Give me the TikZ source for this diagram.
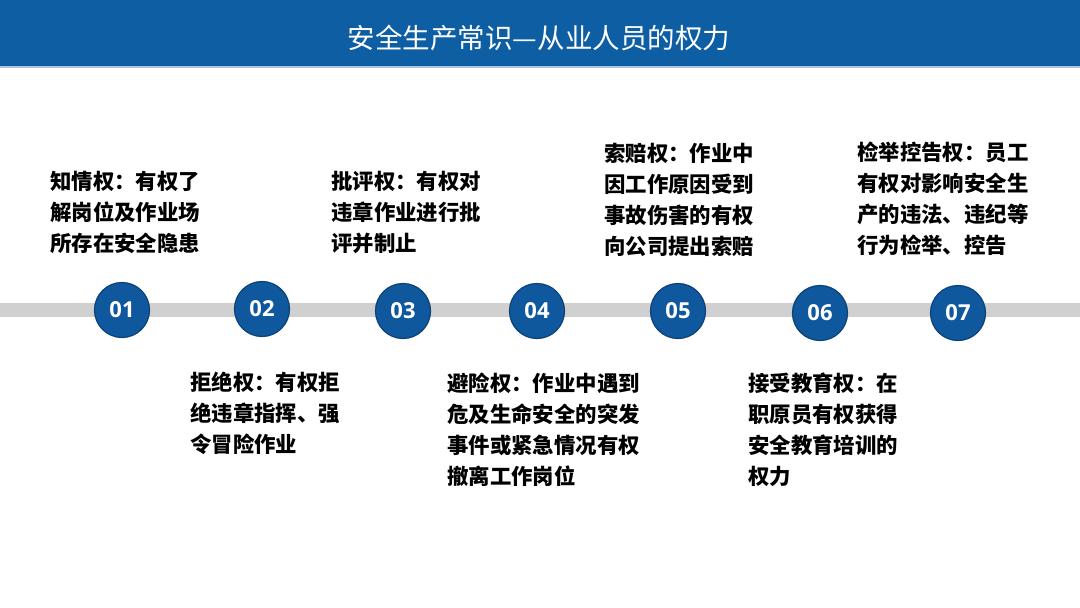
\documentclass[tikz,border=0pt]{standalone}
\usepackage{fontspec}
\newfontfamily\cjk{Noto Sans CJK SC}
\newfontfamily\numfont{Open Sans}
\definecolor{hdrblue}{RGB}{14,94,163}
\definecolor{dotblue}{RGB}{16,88,158}
\definecolor{barlgray}{RGB}{208,208,208}
\tikzset{
  num/.style={circle,fill=dotblue,draw=dotblue!75!black,line width=1.2pt,
    minimum size=55pt,inner sep=0pt,text=white,font=\numfont\bfseries\fontsize{22}{26}\selectfont},
  info/.style={anchor=base west,align=left,inner sep=0pt,
    font=\cjk\bfseries\fontsize{21.4}{31}\selectfont},
}
\begin{document}
\begin{tikzpicture}[x=1pt,y=-1pt]
  \useasboundingbox (0,0) rectangle (1080,608);
  \fill[white] (0,0) rectangle (1080,608);
  % header
  \fill[hdrblue] (0,0) rectangle (1080,66);
  \fill[hdrblue!35] (0,66) rectangle (1080,68);
  \node[text=white,font=\cjk\fontsize{27.5}{32}\selectfont] (title) at (539,38) {安全生产常识—从业人员的权力};
  % time line
  \fill[barlgray] (0,303) rectangle (1080,317);
  \foreach \n/\x/\y in {01/122/310,02/262/309,03/403/311,04/537/311,05/678/311,06/820/313,07/958/313}
    \node[num] (c\n) at (\x,\y) {\n};
  % upper texts (placed by last baseline)
  \node[info] (t1) at (50,251) {知情权：有权了\\解岗位及作业场\\所存在安全隐患};
  \node[info] (t3) at (331,251) {批评权：有权对\\违章作业进行批\\评并制止};
  \node[info] (t5) at (604,254) {索赔权：作业中\\因工作原因受到\\事故伤害的有权\\向公司提出索赔};
  \node[info] (t7) at (857,253) {检举控告权：员工\\有权对影响安全生\\产的违法、违纪等\\行为检举、控告};
  % lower texts
  \node[info] (t2) at (190,452) {拒绝权：有权拒\\绝违章指挥、强\\令冒险作业};
  \node[info] (t4) at (447,484) {避险权：作业中遇到\\危及生命安全的突发\\事件或紧急情况有权\\撤离工作岗位};
  \node[info] (t6) at (748,484) {接受教育权：在\\职原员有权获得\\安全教育培训的\\权力};
\end{tikzpicture}
\end{document}
